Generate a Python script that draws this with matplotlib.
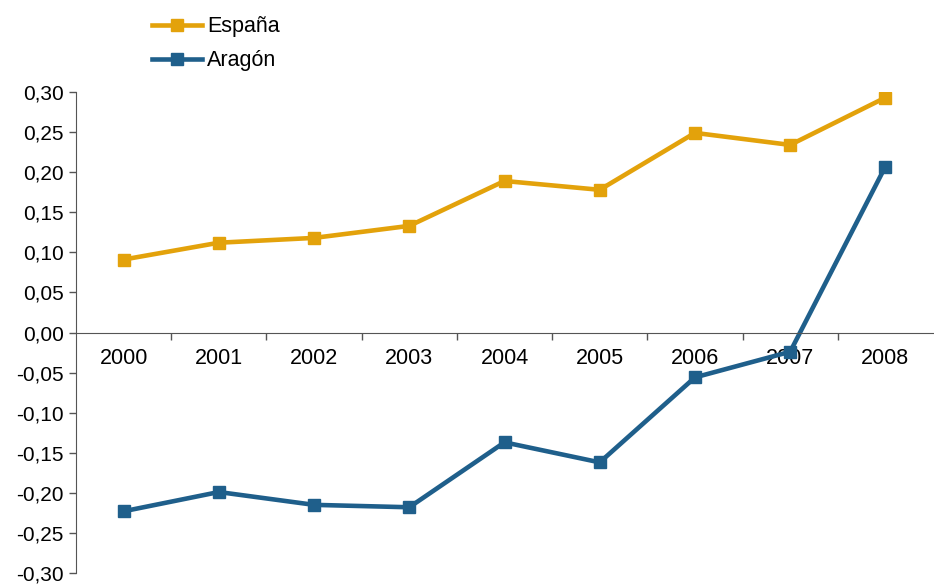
import numpy as np
import matplotlib.pyplot as plt
from matplotlib.ticker import FixedLocator, FuncFormatter

plt.rcParams['font.family'] = ['Liberation Sans', 'DejaVu Sans']

## data
years = ['2000', '2001', '2002', '2003', '2004', '2005', '2006', '2007', '2008']
espana = [0.091, 0.112, 0.118, 0.133, 0.189, 0.178, 0.249, 0.234, 0.293]
aragon = [-0.223, -0.199, -0.215, -0.218, -0.137, -0.162, -0.056, -0.024, 0.207]

col_es = '#E3A20B'
col_ar = '#1F5F8B'

fig = plt.figure(figsize=(9.34, 5.85), dpi=100)
ax = fig.add_axes([76/934, 12/585, 857/934, 481/585])

x = np.arange(len(years))
ax.plot(x, espana, color=col_es, lw=3.3, marker='s', ms=9, label='España')
ax.plot(x, aragon, color=col_ar, lw=3.3, marker='s', ms=9, label='Aragón')

ax.set_xlim(-0.5, len(years) - 0.5)
ax.set_ylim(-0.30, 0.30)
ax.set_yticks(np.arange(-0.30, 0.301, 0.05))
ax.yaxis.set_major_formatter(FuncFormatter(lambda v, p: ('%.2f' % v).replace('.', ',').replace('-0,00', '0,00')))
ax.tick_params(axis='y', direction='out', length=5, width=1, color='#555555', labelsize=15, pad=4)

# x axis through zero, labels under it, ticks between categories
ax.spines['bottom'].set_position(('data', 0))
ax.spines['top'].set_visible(False)
ax.spines['right'].set_visible(False)
ax.spines['left'].set_color('#555555')
ax.spines['bottom'].set_color('#555555')
ax.set_xticks(x)
ax.set_xticklabels(years)
ax.xaxis.set_minor_locator(FixedLocator(np.arange(0.5, len(years) - 0.5, 1)))
ax.tick_params(axis='x', which='major', length=0, labelsize=15.5, pad=11.5)
ax.tick_params(axis='x', which='minor', direction='out', length=5, width=1, color='#555555')

leg = fig.legend(loc='upper left', bbox_to_anchor=(133/934, 1 + 3/585), frameon=False,
                 fontsize=15.5, handlelength=2.3, handletextpad=0.25, labelspacing=0.6)

fig.savefig('out.png', dpi=100)
